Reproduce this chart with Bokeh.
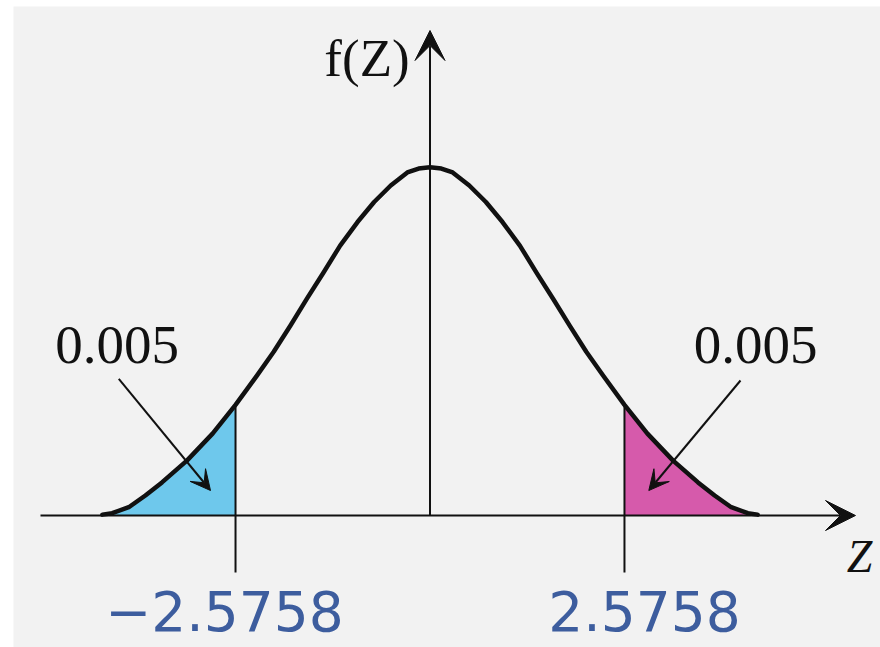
from bokeh.plotting import figure
from bokeh.models import Range1d, Arrow, VeeHead
from bokeh.core.properties import value
from bokeh.embed import file_html
from bokeh.resources import INLINE

# ---- data (curve points, z and f(Z)) ----
Z_CURVE = [-4.34, -4.21, -3.99, -3.77, -3.55, -3.22, -2.88, -2.5758, -2.29, -2.07,
           -1.85, -1.63, -1.41, -1.19, -0.96, -0.74, -0.52, -0.30, -0.15, 0.0,
           0.15, 0.30, 0.52, 0.74, 0.96, 1.19, 1.41, 1.63, 1.85, 2.07,
           2.29, 2.5758, 2.88, 3.22, 3.55, 3.77, 3.99, 4.21, 4.34]
F_CURVE = [0.001, 0.0026, 0.0095, 0.023, 0.038, 0.063, 0.094, 0.127, 0.161, 0.188,
           0.218, 0.249, 0.279, 0.310, 0.337, 0.360, 0.379, 0.394, 0.3985, 0.400,
           0.3985, 0.394, 0.379, 0.360, 0.337, 0.310, 0.279, 0.249, 0.218, 0.188,
           0.161, 0.127, 0.094, 0.063, 0.038, 0.023, 0.0095, 0.0026, 0.001]
CRIT = [-2.5758, 2.5758]
CRIT_LABELS = ["\u22122.5758", "2.5758"]
TAIL_AREA = ["0.005", "0.005"]

# ---- layout ----
W, H = 880, 647
BL, BT = 13, 6                 # white strip left / top
FW, FH = W - BL, H - BT        # frame size
X0 = -416.5 / 75.5
X1 = X0 + FW / 75.5
Y1 = 509 / 870.75
Y0 = Y1 - FH / 870.75
PX = FW / (X1 - X0)   # pixels per z unit
PY = FH / (Y1 - Y0)   # pixels per f unit


def dx(px):
    return px / PX


def dy(px):
    return px / PY


def base(px, size):
    # baseline placement corrected for how the text glyph sits
    return dy(px + 0.38 * size)


BG = "#f2f2f2"
INK = "#111111"

p = figure(width=W, height=H, output_backend="svg", toolbar_location=None,
           x_range=Range1d(X0, X1), y_range=Range1d(Y0, Y1),
           min_border=0, min_border_left=BL, min_border_right=0,
           min_border_top=BT, min_border_bottom=0)
p.axis.visible = False
p.grid.visible = False
p.outline_line_color = None
p.background_fill_color = BG
p.border_fill_color = "white"

# shaded tails
left_x = [z for z in Z_CURVE if z <= CRIT[0]]
left_f = [f for z, f in zip(Z_CURVE, F_CURVE) if z <= CRIT[0]]
right_x = [z for z in Z_CURVE if z >= CRIT[1]]
right_f = [f for z, f in zip(Z_CURVE, F_CURVE) if z >= CRIT[1]]
p.varea(x=left_x, y1=[0] * len(left_x), y2=left_f, fill_color="#6ec8ec")
p.varea(x=right_x, y1=[0] * len(right_x), y2=right_f, fill_color="#d65aab")

# critical value lines
f_at_crit = [F_CURVE[Z_CURVE.index(c)] for c in CRIT]
p.segment(x0=CRIT, y0=f_at_crit, x1=CRIT, y1=[-dy(57)] * 2,
          line_color=INK, line_width=2)

# axes with arrow heads
p.add_layout(Arrow(end=VeeHead(size=30, fill_color=INK, line_color=INK),
                   x_start=-dx(389.5), y_start=0, x_end=dx(425.5), y_end=0,
                   line_color=INK, line_width=2))
p.add_layout(Arrow(end=VeeHead(size=30, fill_color=INK, line_color=INK),
                   x_start=0, y_start=0, x_end=0, y_end=dy(485),
                   line_color=INK, line_width=2))

# curve
p.line(Z_CURVE, F_CURVE, line_color=INK, line_width=4.5, line_join="round", line_cap="round")

# pointer arrows
p.add_layout(Arrow(end=VeeHead(size=20, fill_color=INK, line_color=INK),
                   x_start=-dx(311.2), y_start=dy(136.7), x_end=-dx(219.5), y_end=dy(25),
                   line_color=INK, line_width=2))
p.add_layout(Arrow(end=VeeHead(size=20, fill_color=INK, line_color=INK),
                   x_start=dx(310.5), y_start=dy(135), x_end=dx(218.8), y_end=dy(25),
                   line_color=INK, line_width=2))

serif = value("Liberation Serif")

# texts
p.text(x=[-dx(312.8), dx(325.5)], y=[base(150, 55)] * 2, text=TAIL_AREA,
       text_font=serif, text_font_size="55px", text_color=INK,
       text_align="center", text_baseline="alphabetic")
p.text(x=[-dx(63)], y=[base(437, 53)], text=["f(Z)"],
       text_font=serif, text_font_size="53px", text_color=INK,
       text_align="center", text_baseline="alphabetic")
p.text(x=[dx(429.5)], y=[base(-58, 46)], text=["Z"],
       text_font=serif, text_font_size="46px", text_font_style="italic", text_color=INK,
       text_align="center", text_baseline="alphabetic")
p.text(x=CRIT, y=[base(-116, 55)] * 2, text=CRIT_LABELS, x_offset=[-11, 20],
       text_font=value("DejaVu Sans"), text_font_size="55px", text_color="#3d5d9e",
       text_align="center", text_baseline="alphabetic")

open("out.html", "w").write(file_html(p, INLINE))
